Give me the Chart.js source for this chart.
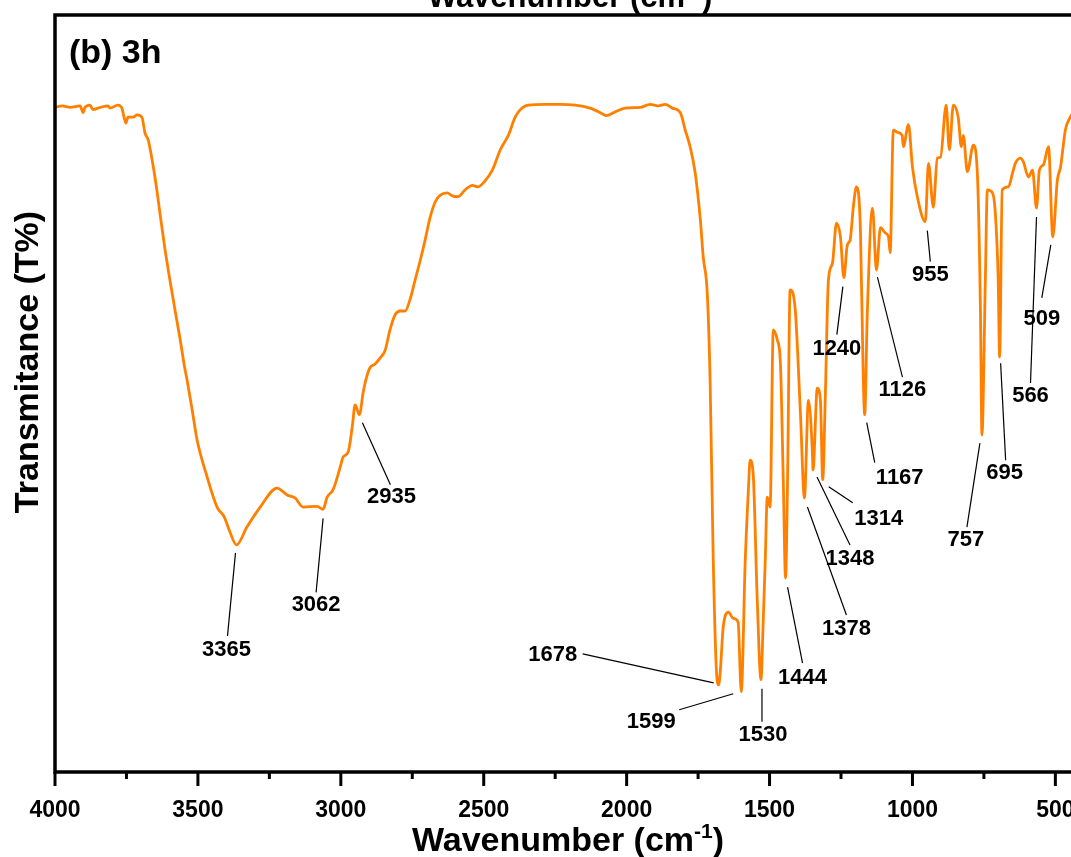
<!DOCTYPE html>
<html>
<head>
<meta charset="utf-8">
<title>FTIR spectrum (b) 3h</title>
<script src="https://cdn.jsdelivr.net/npm/chart.js@4.4.1/dist/chart.umd.min.js"></script>
<style>
  html, body { margin: 0; padding: 0; background: #fff; overflow: hidden; }
  .wrap { width: 1071px; height: 857px; overflow: hidden; position: relative; }
  canvas { display: block; }
</style>
</head>
<body>
<div class="wrap"><canvas id="chart" width="1100" height="857"></canvas></div>
<script>
// spectrum, read from high to low wavenumber (cm-1)
const wavenumber = [
  4000, 3975, 3948, 3912, 3902, 3895, 3878, 3867, 3842, 3814, 3808, 3780, 3766, 3752, 3745, 3727,
  3713, 3696, 3685, 3674, 3660, 3646, 3632, 3615, 3598, 3580, 3562, 3548, 3538, 3520, 3503, 3468,
  3433, 3408, 3388, 3365, 3328, 3282, 3223, 3188, 3160, 3132, 3083, 3062, 3048, 3027, 3002, 2992,
  2974, 2960, 2950, 2935, 2922, 2911, 2898, 2880, 2862, 2845, 2828, 2810, 2792, 2775, 2758, 2740,
  2722, 2705, 2688, 2670, 2652, 2628, 2610, 2590, 2565, 2540, 2520, 2495, 2470, 2442, 2414, 2390,
  2372, 2344, 2285, 2232, 2180, 2128, 2092, 2072, 2040, 2005, 1952, 1918, 1890, 1865, 1840, 1812,
  1795, 1778, 1760, 1742, 1732, 1718, 1708, 1697, 1686, 1678, 1672, 1662, 1644, 1627, 1610, 1599,
  1585, 1574, 1568, 1557, 1543, 1530, 1522, 1515, 1508, 1498, 1487, 1473, 1462, 1452, 1444, 1437,
  1428, 1410, 1392, 1378, 1364, 1350, 1348, 1333, 1322, 1314, 1305, 1294, 1280, 1266, 1252, 1240,
  1228, 1218, 1207, 1196, 1182, 1172, 1167, 1158, 1140, 1126, 1112, 1095, 1084, 1078, 1067, 1053,
  1036, 1032, 1014, 1000, 983, 955, 944, 927, 913, 902, 882, 871, 857, 840, 829, 822,
  808, 787, 773, 762, 757, 745, 738, 720, 710, 700, 695, 686, 664, 650, 640, 622,
  612, 594, 580, 566, 556, 542, 524, 509, 493, 482, 465, 448, 430
];
const transmittance = [
  87.8, 88.0, 87.8, 88.0, 87.1, 87.8, 88.1, 87.5, 87.8, 88.0, 87.7, 88.1, 87.7, 85.7, 86.5, 86.5,
  86.8, 86.5, 84.4, 83.5, 80.8, 77.5, 73.6, 69.0, 65.0, 61.0, 57.1, 53.8, 51.8, 47.8, 43.9, 39.0,
  35.0, 33.7, 31.7, 30.0, 32.4, 35.0, 37.5, 36.6, 36.2, 35.0, 35.1, 34.7, 36.3, 37.3, 40.3, 41.6,
  42.3, 45.6, 48.5, 47.2, 50.1, 52.0, 53.4, 53.9, 54.7, 55.7, 58.4, 60.4, 60.9, 60.9, 62.4, 65.0,
  67.6, 70.3, 73.2, 75.3, 76.2, 76.5, 76.1, 76.0, 76.9, 77.5, 77.3, 78.1, 79.5, 82.2, 84.1, 86.5,
  87.5, 88.1, 88.2, 88.2, 88.1, 87.7, 87.1, 86.7, 87.2, 87.7, 87.8, 88.2, 88.0, 88.2, 87.7, 87.1,
  84.8, 82.6, 79.1, 72.9, 68.0, 63.3, 51.8, 28.0, 13.5, 11.5, 13.5, 19.2, 21.1, 20.3, 19.8, 10.6,
  28.0, 37.3, 41.2, 39.2, 22.7, 12.2, 20.1, 28.0, 36.3, 35.0, 58.4, 57.1, 54.0, 38.6, 25.6, 38.6,
  63.7, 61.0, 47.4, 36.2, 49.1, 42.1, 39.9, 50.7, 49.1, 38.6, 49.5, 65.0, 67.2, 72.5, 70.7, 65.3,
  69.6, 70.3, 74.6, 77.3, 71.6, 51.8, 47.2, 60.6, 74.5, 66.3, 71.9, 71.2, 70.7, 68.6, 84.8, 84.5,
  84.1, 82.6, 85.5, 79.9, 76.0, 72.7, 80.4, 74.6, 81.1, 81.2, 88.1, 82.2, 88.1, 86.5, 82.6, 84.1,
  79.3, 82.8, 79.1, 60.6, 44.5, 65.0, 76.9, 76.5, 73.8, 65.0, 54.8, 76.9, 77.3, 79.1, 80.4, 81.1,
  80.6, 78.6, 79.5, 74.5, 79.5, 80.2, 82.6, 70.7, 78.2, 79.9, 84.8, 86.5, 87.5
];

// labelled band positions
const peakLabels = [3365, 3062, 2935, 1678, 1599, 1530, 1444, 1378, 1348, 1314, 1240, 1167, 1126, 955, 757, 695, 566, 509];

// labelled x ticks
const xTickLabels = [4000, 3500, 3000, 2500, 2000, 1500, 1000, 500];

// leader line start (s), end (e) and text centre (l), in px from the band minimum
const peakPlacement = {
  3365: { s: [-1, 8], e: [-9, 91], l: [-10, 105] },
  3062: { s: [0, 9], e: [-7, 83], l: [-7, 96] },
  2935: { s: [3, 8], e: [31, 70], l: [32, 82] },
  1678: { s: [-5, -2], e: [-136, -31], l: [-166, -30] },
  1599: { s: [-8, 2], e: [-62, 18], l: [-90, 30] },
  1530: { s: [1, 9], e: [1, 42], l: [2, 55] },
  1444: { s: [2, 9], e: [17, 85], l: [17, 100] },
  1378: { s: [3, 9], e: [42, 117], l: [42, 131] },
  1348: { s: [4, 7], e: [37, 75], l: [37, 89] },
  1314: { s: [6, 7], e: [30, 23], l: [56, 39] },
  1240: { s: [-1, 9], e: [-7, 57], l: [-7, 71] },
  1167: { s: [2, 8], e: [10, 48], l: [35, 63] },
  1126: { s: [1, 7], e: [26, 107], l: [26, 120] },
  955: { s: [2, 9], e: [5, 40], l: [5, 53] },
  757: { s: [-2, 8], e: [-15, 92], l: [-16, 105] },
  695: { s: [1, 6], e: [6, 103], l: [5, 116] },
  566: { s: [0, 9], e: [-6, 175], l: [-6, 188] },
  509: { s: [-2, 8], e: [-11, 61], l: [-11, 82] }
};

const FONT = "'Liberation Sans', Arial, sans-serif";
const points = wavenumber.map((w, i) => ({ x: w, y: transmittance[i] }));

// "Wavenumber (cm-1)" with a raised -1
function drawWavenumberTitle(c, cx, baseline, size) {
  const main = "Wavenumber (cm";
  const sup = "-1";
  c.font = `bold ${size}px ${FONT}`;
  const w1 = c.measureText(main).width;
  const w3 = c.measureText(")").width;
  c.font = `bold ${Math.round(size * 0.62)}px ${FONT}`;
  const w2 = c.measureText(sup).width;
  let x = cx - (w1 + w2 + w3) / 2;
  c.textAlign = "left";
  c.textBaseline = "alphabetic";
  c.font = `bold ${size}px ${FONT}`;
  c.fillText(main, x, baseline);
  x += w1;
  c.font = `bold ${Math.round(size * 0.62)}px ${FONT}`;
  c.fillText(sup, x, baseline - size * 0.38);
  x += w2;
  c.font = `bold ${size}px ${FONT}`;
  c.fillText(")", x, baseline);
}

const framePlugin = {
  id: "frame",
  afterDatasetsDraw(chart) {
    const { ctx: c, chartArea: a, scales } = chart;
    const xs = scales.x;
    c.save();
    c.strokeStyle = "#000";
    c.lineWidth = 3.5;
    c.lineCap = "butt";
    c.beginPath();
    c.moveTo(a.left, a.bottom + 1.75);
    c.lineTo(a.left, a.top);
    c.lineTo(chart.width, a.top);
    c.moveTo(a.left - 1.75, a.bottom);
    c.lineTo(chart.width, a.bottom);
    c.stroke();

    // major / minor tick marks below the axis
    c.lineWidth = 3;
    xs.ticks.forEach(t => {
      const px = xs.getPixelForValue(t.value);
      const len = xTickLabels.includes(t.value) ? 14 : 7;
      c.beginPath();
      c.moveTo(px, a.bottom);
      c.lineTo(px, a.bottom + len);
      c.stroke();
    });

    // band labels with leader lines
    const ys = scales.y;
    c.lineWidth = 1.2;
    c.fillStyle = "#000";
    c.font = `bold 22px ${FONT}`;
    c.textAlign = "center";
    c.textBaseline = "middle";
    peakLabels.forEach(w => {
      const i = wavenumber.indexOf(w);
      const px = xs.getPixelForValue(w);
      const py = ys.getPixelForValue(transmittance[i]);
      const p = peakPlacement[w];
      c.beginPath();
      c.moveTo(px + p.s[0], py + p.s[1]);
      c.lineTo(px + p.e[0], py + p.e[1]);
      c.stroke();
      c.fillText(String(w), px + p.l[0], py + p.l[1]);
    });

    // panel tag
    c.textAlign = "left";
    c.textBaseline = "alphabetic";
    c.font = `bold 34px ${FONT}`;
    c.fillText("(b) 3h", 69, 63);

    // y title
    c.save();
    c.translate(38, 362);
    c.rotate(-Math.PI / 2);
    c.textAlign = "center";
    c.fillText("Transmitance (T%)", 0, 0);
    c.restore();

    // x titles: this panel and the one above
    drawWavenumberTitle(c, 568, 851, 34);
    drawWavenumberTitle(c, 570, 7, 31);
    c.restore();
  }
};

const ctx = document.getElementById("chart").getContext("2d");
new Chart(ctx, {
  type: "line",
  data: {
    datasets: [
      {
        data: points,
        borderColor: "#ff8000",
        borderWidth: 2.8,
        pointRadius: 0,
        fill: false,
        cubicInterpolationMode: "monotone",
      },
    ],
  },
  options: {
    responsive: false,
    animation: false,
    layout: { padding: { left: 55, right: 16, top: 15, bottom: 0 } },
    plugins: { legend: { display: false }, tooltip: { enabled: false } },
    scales: {
      x: {
        type: "linear",
        reverse: true,
        min: 400,
        max: 4000,
        afterFit: function (scale) {
          scale.height = 85;
        },
        grid: { display: false, drawTicks: false },
        border: { display: false },
        ticks: {
          stepSize: 250,
          includeBounds: false,
          autoSkip: false,
          maxRotation: 0,
          padding: 25,
          color: "#000",
          font: { family: FONT, size: 23, weight: "bold" },
          callback: function (value) {
            return xTickLabels.includes(value) ? value : "";
          },
        },
      },
      y: { display: false, min: 0, max: 100 },
    },
  },
  plugins: [framePlugin],
});
</script>
</body>
</html>
